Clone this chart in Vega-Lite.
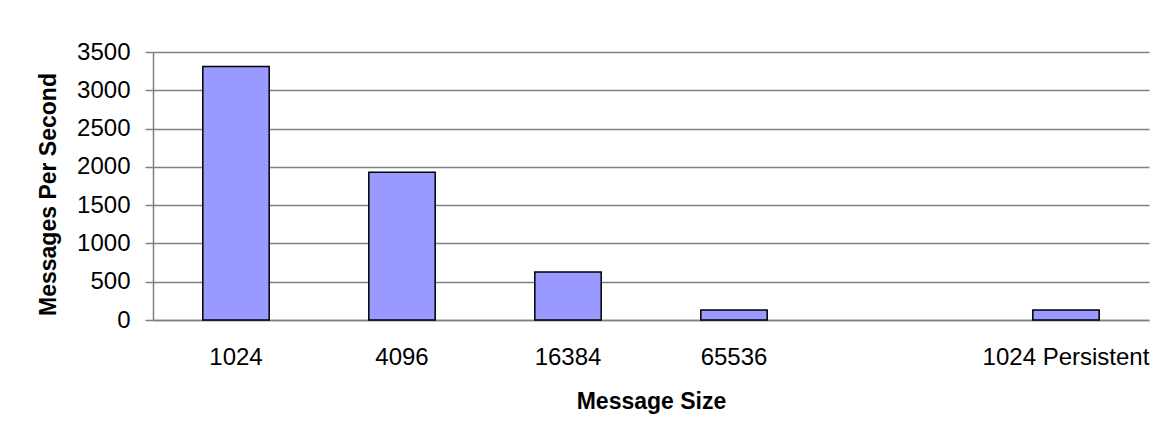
{
  "$schema": "https://vega.github.io/schema/vega-lite/v6.json",
  "autosize": "none",
  "width": 996,
  "height": 268,
  "padding": {"left": 153, "top": 52, "right": 11, "bottom": 121},
  "background": "white",
  "config": {
    "font": "Liberation Sans",
    "view": {"stroke": null}
  },
  "data": {
    "values": [
      {"size": "1024", "mps": 3310},
      {"size": "4096", "mps": 1930},
      {"size": "16384", "mps": 627},
      {"size": "65536", "mps": 130},
      {"size": "1024 Persistent", "mps": 130}
    ]
  },
  "mark": {"type": "bar", "fill": "#9999FF", "stroke": "#000000", "strokeWidth": 1.5},
  "encoding": {
    "x": {
      "field": "size",
      "type": "nominal",
      "sort": null,
      "scale": {
        "domain": ["1024", "4096", "16384", "65536", "gap", "1024 Persistent"],
        "paddingInner": 0.6,
        "paddingOuter": 0.3
      },
      "axis": {
        "title": "Message Size",
        "titleFont": "Liberation Sans",
        "titleFontSize": 23,
        "titleFontWeight": "bold",
        "titleColor": "#000000",
        "titlePadding": 21,
        "labelExpr": "datum.value == 'gap' ? '' : datum.value",
        "labelAngle": 0,
        "labelFontSize": 24,
        "labelColor": "#000000",
        "labelPadding": 25,
        "labelBaseline": "top",
        "ticks": false,
        "domain": true,
        "domainColor": "#808080",
        "domainWidth": 1.5,
        "grid": false
      }
    },
    "y": {
      "field": "mps",
      "type": "quantitative",
      "scale": {"domain": [0, 3500], "nice": false},
      "axis": {
        "title": "Messages Per Second",
        "titleFont": "Liberation Sans",
        "titleFontSize": 23,
        "titleFontWeight": "bold",
        "titleColor": "#000000",
        "titlePadding": 16,
        "titleY": 142,
        "format": "d",
        "values": [0, 500, 1000, 1500, 2000, 2500, 3000, 3500],
        "labelFontSize": 24,
        "labelColor": "#000000",
        "labelPadding": 15,
        "ticks": true,
        "tickSize": 8,
        "tickColor": "#808080",
        "tickWidth": 1.5,
        "domain": true,
        "domainColor": "#808080",
        "domainWidth": 1.5,
        "grid": true,
        "gridColor": "#808080",
        "gridWidth": 1.5
      }
    }
  }
}
